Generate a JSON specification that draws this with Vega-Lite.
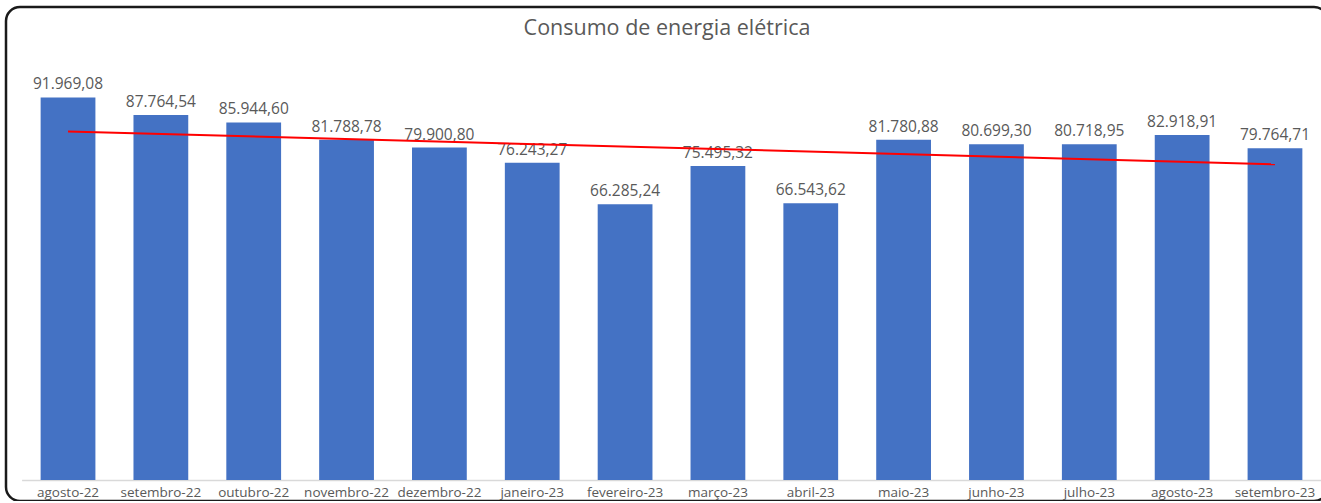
{
  "$schema": "https://vega.github.io/schema/vega-lite/v6.json",
  "autosize": "none",
  "width": 1322,
  "height": 494,
  "padding": {"left": 6, "top": 7, "right": 0, "bottom": 0},
  "background": "white",
  "config": {
    "locale": {"number": {"decimal": ",", "thousands": ".", "grouping": [3], "currency": ["R$", ""]}},
    "view": {"stroke": "#1a1a1a", "strokeWidth": 2.5, "cornerRadius": 14},
    "font": "Open Sans"
  },
  "title": {
    "text": "Consumo de energia elétrica",
    "font": "Open Sans",
    "fontSize": 21.5,
    "fontWeight": "normal",
    "color": "#595959",
    "anchor": "middle",
    "frame": "group",
    "baseline": "alphabetic",
    "offset": -49
  },
  "data": {
    "values": [
      {"mes": "agosto-22", "i": 0, "valor": 91969.08},
      {"mes": "setembro-22", "i": 1, "valor": 87764.54},
      {"mes": "outubro-22", "i": 2, "valor": 85944.60},
      {"mes": "novembro-22", "i": 3, "valor": 81788.78},
      {"mes": "dezembro-22", "i": 4, "valor": 79900.80},
      {"mes": "janeiro-23", "i": 5, "valor": 76243.27},
      {"mes": "fevereiro-23", "i": 6, "valor": 66285.24},
      {"mes": "março-23", "i": 7, "valor": 75495.32},
      {"mes": "abril-23", "i": 8, "valor": 66543.62},
      {"mes": "maio-23", "i": 9, "valor": 81780.88},
      {"mes": "junho-23", "i": 10, "valor": 80699.30},
      {"mes": "julho-23", "i": 11, "valor": 80718.95},
      {"mes": "agosto-23", "i": 12, "valor": 82918.91},
      {"mes": "setembro-23", "i": 13, "valor": 79764.71}
    ]
  },
  "layer": [
    {
      "encoding": {
        "x": {
          "field": "mes", "type": "nominal", "sort": null,
          "scale": {"range": [15.6, 1315.4], "paddingInner": 0.41, "paddingOuter": 0.205},
          "axis": {
            "title": null, "labelAngle": 0, "offset": -21,
            "domainColor": "#D9D9D9", "domainWidth": 1.5,
            "ticks": false, "labelPadding": 5,
            "labelFont": "Open Sans", "labelFontSize": 13.5, "labelColor": "#595959"
          }
        },
        "y": {
          "field": "valor", "type": "quantitative",
          "scale": {"domain": [0, 100000], "range": [473, 57], "nice": false},
          "axis": null
        }
      },
      "layer": [
        {"mark": {"type": "bar", "color": "#4472C4"}},
        {
          "mark": {"type": "text", "baseline": "alphabetic", "dy": -8, "font": "Open Sans", "fontSize": 15.5, "color": "#595959"},
          "encoding": {
            "text": {"field": "valor", "type": "quantitative", "format": ",.2f"}
          }
        }
      ]
    },
    {
      "transform": [{"regression": "valor", "on": "i"}],
      "mark": {"type": "line", "color": "#FF0000", "strokeWidth": 2},
      "encoding": {
        "x": {
          "field": "i", "type": "quantitative",
          "scale": {"domain": [-0.5, 13.5], "range": [15.6, 1315.4], "nice": false, "zero": false},
          "axis": null
        },
        "y": {"field": "valor", "type": "quantitative"}
      }
    }
  ],
  "resolve": {"scale": {"x": "independent"}}
}
